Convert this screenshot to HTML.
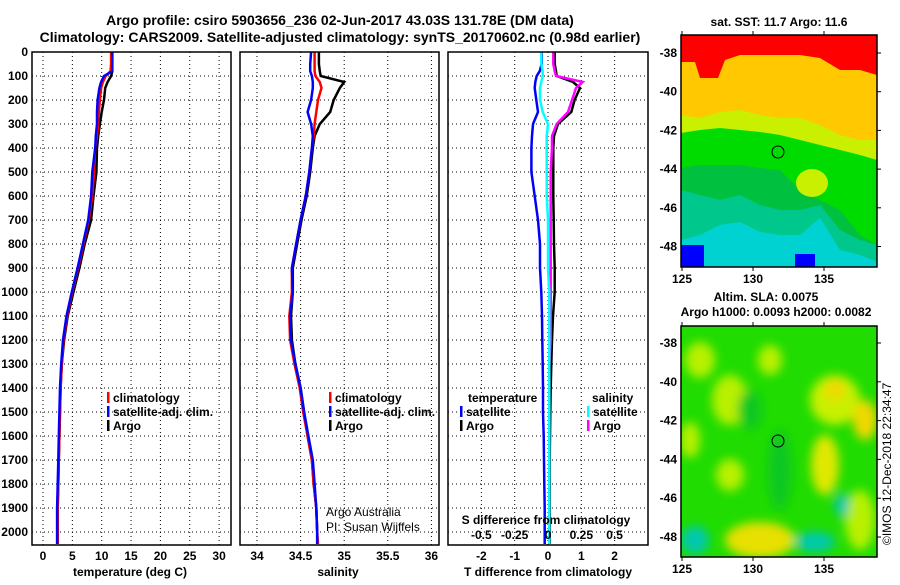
<!DOCTYPE html>
<html><head><meta charset="utf-8"><style>
body{margin:0;background:#fff}
svg text{font-family:"Liberation Sans",Arial,sans-serif;font-weight:bold;fill:#000}
</style></head><body>
<svg id="s" xmlns="http://www.w3.org/2000/svg" width="900" height="580" viewBox="0 0 900 580">
<defs>
<filter id="blur" x="-20%" y="-20%" width="140%" height="140%"><feGaussianBlur stdDeviation="5"/></filter>
<clipPath id="c1"><rect x="681" y="35" width="196" height="232"/></clipPath>
<clipPath id="c2"><rect x="681" y="326" width="196" height="231"/></clipPath>
</defs>
<text x="340" y="25" font-size="14" text-anchor="middle">Argo profile: csiro 5903656_236 02-Jun-2017 43.03S 131.78E (DM data)</text>
<text x="340" y="42" font-size="14" text-anchor="middle">Climatology: CARS2009. Satellite-adjusted climatology: synTS_20170602.nc (0.98d earlier)</text>
<g id="plots"></g>
<!-- SST map -->
<g clip-path="url(#c1)">
<rect x="681" y="35" width="196" height="232" fill="#00d2d2"/>
<polygon fill="#00c88c" points="681,35 877,35 877,262 860,255 840,250 820,218 800,235 780,235 760,232 740,222 720,225 700,235 681,240"/>
<polygon fill="#00c040" points="681,35 877,35 877,245 860,240 840,230 820,205 800,210 780,210 760,205 740,195 720,200 700,195 681,190"/>
<polygon fill="#00dc00" points="681,35 877,35 877,245 860,235 840,210 820,200 800,190 780,170 760,168 740,165 720,165 700,165 681,168"/>
<polygon fill="#c8f000" points="681,35 877,35 877,160 860,155 840,150 820,145 800,140 780,135 760,132 740,130 720,128 700,130 681,133"/>
<ellipse cx="812" cy="183" rx="16" ry="14" fill="#c8f000"/>
<polygon fill="#ffc800" points="681,35 877,35 877,140 860,140 840,135 820,125 800,118 780,118 760,115 740,110 720,112 700,118 681,115"/>
<polygon fill="#ff0000" points="681,35 877,35 877,75 860,70 840,70 820,58 800,55 780,55 760,55 740,55 725,60 718,78 700,78 695,62 681,62"/>
<rect x="681" y="245" width="23" height="22" fill="#0000ff"/>
<rect x="795" y="254" width="20" height="13" fill="#0000ff"/>
<circle cx="778" cy="152" r="6" fill="none" stroke="#000" stroke-width="1"/>
</g>
<rect x="681" y="35" width="196" height="232" fill="none" stroke="#000" stroke-width="1.5"/>
<text x="779" y="26" font-size="12" text-anchor="middle">sat. SST: 11.7 Argo: 11.6</text>
<!-- SLA map -->
<g clip-path="url(#c2)">
<rect x="681" y="326" width="196" height="231" fill="#20dc00"/>
<g filter="url(#blur)">
<ellipse cx="700" cy="360" rx="15" ry="18" fill="#b8f000"/>
<ellipse cx="730" cy="400" rx="18" ry="25" fill="#b8f000"/>
<ellipse cx="770" cy="360" rx="12" ry="15" fill="#b8f000"/>
<ellipse cx="835" cy="400" rx="25" ry="25" fill="#c8f000"/>
<ellipse cx="835" cy="390" rx="10" ry="10" fill="#f0d800"/>
<ellipse cx="865" cy="420" rx="12" ry="20" fill="#f0d800"/>
<ellipse cx="825" cy="465" rx="14" ry="30" fill="#e0e800"/>
<ellipse cx="730" cy="475" rx="14" ry="16" fill="#b8f000"/>
<ellipse cx="690" cy="440" rx="10" ry="18" fill="#b8f000"/>
<ellipse cx="760" cy="540" rx="35" ry="18" fill="#e8e000"/>
<ellipse cx="860" cy="520" rx="15" ry="30" fill="#b8f000"/>
<ellipse cx="780" cy="470" rx="12" ry="40" fill="#10c820"/>
<ellipse cx="750" cy="410" rx="12" ry="20" fill="#10c820"/>
<ellipse cx="695" cy="540" rx="14" ry="14" fill="#00c8b0"/>
<ellipse cx="815" cy="542" rx="20" ry="10" fill="#00c8b0"/>
<ellipse cx="842" cy="505" rx="7" ry="12" fill="#00c8b0"/>
</g>
<circle cx="778" cy="441" r="6" fill="none" stroke="#000" stroke-width="1"/>
</g>
<rect x="681" y="326" width="196" height="231" fill="none" stroke="#000" stroke-width="1.5"/>
<text x="766" y="301" font-size="12" text-anchor="middle">Altim. SLA: 0.0075</text>
<text x="776" y="316" font-size="12" text-anchor="middle">Argo h1000: 0.0093 h2000: 0.0082</text>
<text transform="translate(891,545) rotate(-90)" font-size="12" style="font-weight:normal">©IMOS 12-Dec-2018 22:34:47</text>
</svg>
<script>
const depths=[0,50,80,100,125,150,200,250,300,350,400,500,600,700,800,900,1000,1100,1200,1300,1400,1500,1600,1700,1800,1900,2000,2050];
const tempClim=[11.6,11.6,11.5,10.7,10.2,9.9,9.7,9.5,9.4,9.2,8.9,8.7,8.4,7.8,6.9,6.0,5.0,4.1,3.5,3.2,3.0,2.9,2.8,2.7,2.6,2.5,2.5,2.5];
const tempSat=[11.8,11.8,11.8,10.4,9.9,9.6,9.3,9.2,9.2,9.0,8.9,8.4,8.2,7.7,6.8,5.9,4.9,4.0,3.4,3.1,2.9,2.8,2.7,2.6,2.5,2.4,2.4,2.4];
const tempArgo=[11.8,11.8,11.8,11.6,11.0,10.6,10.4,10.0,9.7,9.4,9.2,9.1,8.6,8.2,7.1,6.2,5.2,4.2,3.6,3.2,3.0,2.9,2.8,2.7,2.6,2.5,2.5,2.5];
const salClim=[34.66,34.66,34.66,34.67,34.72,34.74,34.70,34.68,34.66,34.65,34.63,34.60,34.56,34.50,34.45,34.40,34.40,34.37,34.38,34.43,34.49,34.53,34.58,34.63,34.65,34.68,34.69,34.70];
const salSat=[34.62,34.61,34.61,34.63,34.64,34.64,34.62,34.58,34.62,34.64,34.63,34.60,34.56,34.50,34.45,34.40,34.41,34.38,34.39,34.44,34.50,34.54,34.59,34.64,34.66,34.68,34.69,34.69];
const salArgo=[34.71,34.71,34.72,34.73,35.00,34.95,34.88,34.84,34.72,34.66,34.64,34.61,34.57,34.51,34.46,34.41,34.41,34.39,34.40,34.44,34.50,34.54,34.58,34.63,34.65,34.68,34.69,34.69];
const dTSat=[-0.19,-0.19,-0.25,-0.34,-0.38,-0.40,-0.35,-0.30,-0.45,-0.48,-0.50,-0.50,-0.40,-0.30,-0.24,-0.24,-0.20,-0.18,-0.17,-0.16,-0.15,-0.15,-0.13,-0.12,-0.11,-0.10,-0.10,-0.10];
const dTArgo=[0.20,0.20,0.24,0.26,0.75,0.96,0.80,0.70,0.30,0.18,0.16,0.16,0.16,0.17,0.18,0.20,0.20,0.15,0.12,0.10,0.08,0.07,0.06,0.05,0.05,0.05,0.05,0.05];
const dSSat=[-0.05,-0.05,-0.04,-0.04,-0.05,-0.06,-0.06,-0.04,0.0,-0.01,-0.01,-0.01,-0.01,0,0,0,0.01,0.01,0.01,0.01,0.01,0.01,0.01,0.01,0.01,0.01,0.01,0.01];
const dSArgo=[0.04,0.04,0.05,0.06,0.26,0.21,0.18,0.15,0.065,0.03,0.03,0.02,0.02,0.02,0.02,0.02,0.02,0.02,0.02,0.01,0.01,0.01,0.01,0.01,0.01,0.01,0.01,0.01];
const depthTicks=[0,100,200,300,400,500,600,700,800,900,1000,1100,1200,1300,1400,1500,1600,1700,1800,1900,2000];
const tempTicks=[0,5,10,15,20,25,30];
const salTicks=[34,34.5,35,35.5,36];
const salTickLabels=["34","34.5","35","35.5","36"];
const dTTicks=[-2,-1,0,1,2];
const dSTicks=[-0.5,-0.25,0,0.25,0.5];
const dSTickLabels=["-0.5","-0.25","0","0.25","0.5"];
const lonTicks=[125,130,135];
const latTicks=[-38,-40,-42,-44,-46,-48];

const NS="http://www.w3.org/2000/svg";
const g=document.getElementById('plots');
function mk(tag,attrs,parent){const e=document.createElementNS(NS,tag);for(const k in attrs)e.setAttribute(k,attrs[k]);(parent||g).appendChild(e);return e;}
const TOP=52,BOT=545;
const yD=d=>TOP+d*0.24;
const xT=v=>43+v*5.87;
const xS=v=>257+(v-34)*87.2;
const xdT=v=>548+v*33.3;
const xdS=v=>548+v*133.3;
const panels=[[32,231],[240,439],[448,648]];

function grid(x0,x1,xs){
  depthTicks.forEach(d=>{const l=mk('line',{x1:x0,x2:x1,y1:yD(d),y2:yD(d),stroke:'#000','stroke-dasharray':'1,3','stroke-width':1});
    
    });
  xs.forEach(x=>{const l=mk('line',{x1:x,x2:x,y1:TOP,y2:BOT,stroke:'#000','stroke-dasharray':'1,3','stroke-width':1});
    
    });
}
grid(32,231,tempTicks.map(xT));
grid(240,439,salTicks.map(xS));
grid(448,648,dTTicks.map(xdT));

function line(xf,vals,color,name,w){
  let pts=[];
  vals.forEach((v,i)=>{pts.push(xf(v).toFixed(1)+','+yD(depths[i]).toFixed(1));});
  const p=mk('polyline',{points:pts.join(' '),fill:'none',stroke:color,'stroke-width':w||2.5,'stroke-linejoin':'miter'});
  
  
}
line(xT,tempArgo,'#000','temperature-argo-line');
line(xT,tempClim,'#f00','temperature-climatology-line');
line(xT,tempSat,'#00f','temperature-satellite-line');
line(xS,salArgo,'#000','salinity-argo-line');
line(xS,salClim,'#f00','salinity-climatology-line');
line(xS,salSat,'#00f','salinity-satellite-line');
line(xdT,dTArgo,'#000','t-diff-argo-line');
line(xdS,dSArgo,'#f0f','s-diff-argo-line');
line(xdT,dTSat,'#00f','t-diff-satellite-line');
line(xdS,dSSat,'#0ff','s-diff-satellite-line');

panels.forEach((p,i)=>{const r=mk('rect',{x:p[0],y:TOP,width:p[1]-p[0],height:BOT-TOP,fill:'none',stroke:'#000','stroke-width':1.5});
  
  });

function txt(x,y,s,name,opt){const t=mk('text',Object.assign({x:x,y:y,'font-size':12},opt||{}));t.textContent=s;
  
  return t;}
depthTicks.forEach(d=>txt(28,yD(d)+4,String(d),'depth-tick-label',{'text-anchor':'end'}));
tempTicks.forEach(v=>txt(xT(v),560,String(v),'temperature-tick-label',{'text-anchor':'middle'}));
salTicks.forEach((v,i)=>txt(xS(v),560,salTickLabels[i],'salinity-tick-label',{'text-anchor':'middle'}));
dTTicks.forEach(v=>txt(xdT(v),560,String(v),'t-diff-tick-label',{'text-anchor':'middle'}));
dSTicks.forEach((v,i)=>txt(xdS(v),539,dSTickLabels[i],'s-diff-tick-label',{'text-anchor':'middle'}));
txt(130,576,'temperature (deg C)','temperature-axis-title',{'text-anchor':'middle'});
txt(338,576,'salinity','salinity-axis-title',{'text-anchor':'middle'});
txt(548,576,'T difference from climatology','t-diff-axis-title',{'text-anchor':'middle'});
txt(546,524,'S difference from climatology','s-diff-axis-title',{'text-anchor':'middle'});
const an1=txt(326,516,'Argo Australia','credit-line-1');an1.setAttribute('style','font-weight:normal');
const an2=txt(326,531,'PI: Susan Wijffels','credit-line-2');an2.setAttribute('style','font-weight:normal');

function legend(x,y,color,label,name){
  const b=mk('rect',{x:x,y:y-10,width:2.5,height:11,fill:color});
  
  
  txt(x+6,y,label,name);
}
[[0,'#f00','climatology'],[1,'#00f','satellite-adj. clim.'],[2,'#000','Argo']].forEach(a=>{
  legend(107,402+a[0]*14,a[1],a[2],'legend-entry');
  legend(329,402+a[0]*14,a[1],a[2],'legend-entry');
});
txt(468,402,'temperature','legend-temperature-heading');
legend(460,416,'#00f','satellite','legend-entry');
legend(460,430,'#000','Argo','legend-entry');
txt(592,402,'salinity','legend-salinity-heading');
legend(587,416,'#0ff','satellite','legend-entry');
legend(587,430,'#f0f','Argo','legend-entry');

const lonX=v=>682+(v-125)*14.2;
const latY1=v=>53+(-38-v)*19.35;
const latY2=v=>343+(-38-v)*19.4;
[[latY1,267,35],[latY2,557,326]].forEach((m,k)=>{
  lonTicks.forEach(v=>{txt(lonX(v),m[1]+16,String(v),'longitude-tick-label',{'text-anchor':'middle'});
    const t=mk('line',{x1:lonX(v),x2:lonX(v),y1:m[1],y2:m[1]+4,stroke:'#000'});
    
    
    const t2=mk('line',{x1:lonX(v),x2:lonX(v),y1:m[2],y2:m[2]-4,stroke:'#000'});
    
    });
  latTicks.forEach(v=>{txt(677,m[0](v)+4,String(v),'latitude-tick-label',{'text-anchor':'end'});
    const t=mk('line',{x1:877,x2:881,y1:m[0](v),y2:m[0](v),stroke:'#000'});
    
    });
});
</script>
</body></html>
